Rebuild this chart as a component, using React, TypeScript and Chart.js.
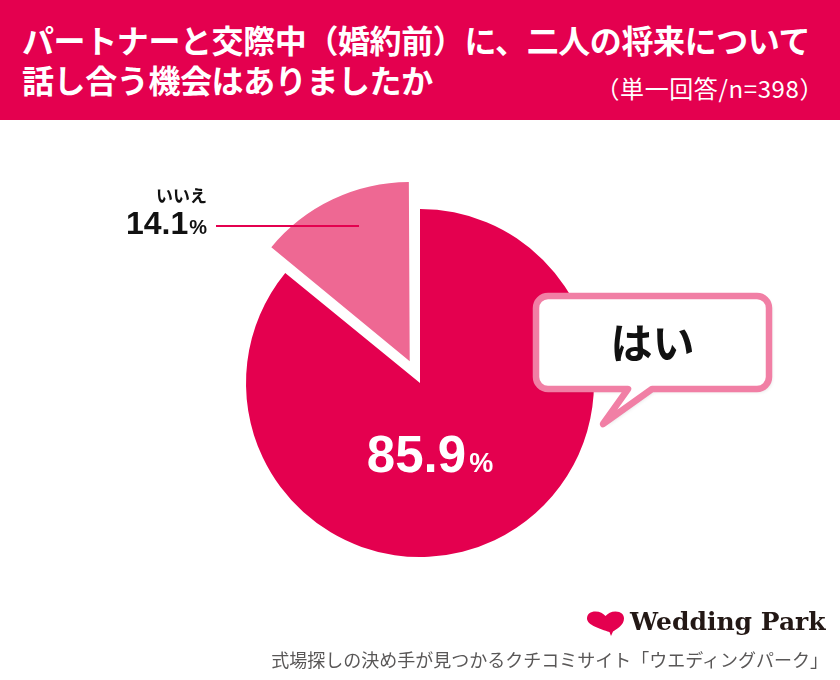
import React, { useEffect, useRef } from "react";
import { Chart, registerables } from "chart.js";

Chart.register(...registerables);

// ---- data ----
const categories = ["はい", "いいえ"];
const values = [85.9, 14.1];
const sliceColors = ["#E4004F", "#EE6893"];
// Chart.js translates an arc by offset / 4 pixels
const sliceOffsets = [0, 96];
const titleLines = [
  "パートナーと交際中（婚約前）に、二人の将来について",
  "話し合う機会はありましたか",
];
const noteText = "（単一回答/n=398）";
const footerText = "式場探しの決め手が見つかるクチコミサイト「ウエディングパーク」";
const brandText = "Wedding Park";

const JP = '"Noto Sans CJK JP", "Noto Sans", sans-serif';
const NUM = '"Liberation Sans", Arial, sans-serif';

const labelPlugin = {
  id: "labelPlugin",
  afterDraw(chart: any) {
    const ctx = chart.ctx as CanvasRenderingContext2D;
    const meta = chart.getDatasetMeta(0);
    const big = meta.data[0] as any;
    const cx = big.x;
    const cy = big.y;

    ctx.save();
    // ---- speech bubble for the big slice ----
    const L = cx + 116, R = cx + 349, T = cy - 87, B = cy + 6, rad = 12;
    const tailL = cx + 208, tailR = cx + 232, tipX = cx + 183, tipY = cy + 41;
    ctx.beginPath();
    ctx.moveTo(L + rad, T);
    ctx.lineTo(R - rad, T);
    ctx.arcTo(R, T, R, T + rad, rad);
    ctx.lineTo(R, B - rad);
    ctx.arcTo(R, B, R - rad, B, rad);
    ctx.lineTo(tailR, B);
    ctx.lineTo(tipX, tipY);
    ctx.lineTo(tailL, B);
    ctx.lineTo(L + rad, B);
    ctx.arcTo(L, B, L, B - rad, rad);
    ctx.lineTo(L, T + rad);
    ctx.arcTo(L, T, L + rad, T, rad);
    ctx.closePath();
    ctx.shadowColor = "rgba(0,0,0,0.18)";
    ctx.shadowBlur = 4;
    ctx.shadowOffsetX = 2;
    ctx.shadowOffsetY = 2;
    ctx.fillStyle = "#FFFFFF";
    ctx.fill();
    ctx.shadowColor = "transparent";
    ctx.lineJoin = "round";
    ctx.lineCap = "round";
    ctx.lineWidth = 6.5;
    ctx.strokeStyle = "#F17FA5";
    ctx.stroke();

    ctx.fillStyle = "#111111";
    ctx.font = `bold 42px ${JP}`;
    ctx.textAlign = "center";
    ctx.textBaseline = "middle";
    ctx.fillText(categories[0], (L + R) / 2, (T + B) / 2 + 1);

    // ---- big slice value ----
    const bigNum = values[0].toFixed(1);
    ctx.textBaseline = "alphabetic";
    ctx.textAlign = "left";
    ctx.font = `bold 51px ${NUM}`;
    const w1 = ctx.measureText(bigNum).width;
    ctx.font = `bold 27px ${NUM}`;
    const w2 = ctx.measureText("%").width;
    const startX = cx + 10 - (w1 + w2 + 3) / 2;
    const baseY = cy + 89;
    ctx.fillStyle = "#FFFFFF";
    ctx.font = `bold 51px ${NUM}`;
    ctx.fillText(bigNum, startX, baseY);
    ctx.font = `bold 27px ${NUM}`;
    ctx.fillText("%", startX + w1 + 3, baseY);

    // ---- small slice label + leader ----
    const lx = cx - 61, ly = cy - 157;
    ctx.strokeStyle = sliceColors[0];
    ctx.lineWidth = 2;
    ctx.lineCap = "butt";
    ctx.beginPath();
    ctx.moveTo(cx - 204, ly);
    ctx.lineTo(lx, ly);
    ctx.stroke();

    const rightX = cx - 213;
    ctx.fillStyle = "#111111";
    ctx.textAlign = "right";
    ctx.font = `bold 17px ${JP}`;
    ctx.fillText(categories[1], rightX, cy - 181);
    ctx.font = `bold 20px ${NUM}`;
    const pw = ctx.measureText("%").width;
    ctx.fillText("%", rightX, cy - 149);
    ctx.font = `bold 32px ${NUM}`;
    ctx.fillText(values[1].toFixed(1), rightX - pw - 1, cy - 149);
    ctx.restore();
  },
};

export default function App() {
  const canvasRef = useRef<HTMLCanvasElement | null>(null);

  useEffect(() => {
    const canvas = canvasRef.current;
    if (!canvas) return;
    const chart = new Chart(canvas, {
      type: "pie",
      data: {
        labels: categories,
        datasets: [
          {
            data: values,
            backgroundColor: sliceColors,
            borderWidth: 0,
            offset: sliceOffsets,
            hoverOffset: 0,
          },
        ],
      },
      options: {
        responsive: false,
        maintainAspectRatio: false,
        animation: false,
        events: [],
        radius: 174,
        layout: { padding: { top: 120, bottom: 34, left: 0, right: 0 } },
        plugins: {
          legend: { display: false },
          tooltip: { enabled: false },
        },
      } as any,
      plugins: [labelPlugin],
    });
    return () => chart.destroy();
  }, []);

  return (
    <div
      style={{
        position: "absolute",
        left: 0,
        top: 0,
        width: 840,
        height: 680,
        background: "#FFFFFF",
        overflow: "hidden",
      }}
    >
      <canvas
        ref={canvasRef}
        width={840}
        height={680}
        style={{ position: "absolute", left: 0, top: 0, width: 840, height: 680 }}
      />
      <div
        style={{
          position: "absolute",
          left: 0,
          top: 0,
          width: 840,
          height: 120,
          background: "#E4004F",
        }}
      >
        {titleLines.map((t, i) => (
          <div
            key={i}
            style={{
              position: "absolute",
              left: 22,
              top: 19 + i * 40,
              height: 40,
              lineHeight: "40px",
              fontFamily: JP,
              fontWeight: 700,
              fontSize: 32,
              color: "#FFFFFF",
              whiteSpace: "nowrap",
              letterSpacing: -0.4,
            }}
          >
            {t}
          </div>
        ))}
        <div
          style={{
            position: "absolute",
            right: 16,
            top: 72,
            lineHeight: "32px",
            fontFamily: JP,
            fontSize: 24,
            fontWeight: 400,
            color: "#FFFFFF",
            whiteSpace: "nowrap",
            letterSpacing: 0.6,
          }}
        >
          {noteText}
        </div>
      </div>
      <svg
        style={{ position: "absolute", left: 586, top: 611 }}
        width={40}
        height={26}
        viewBox="0 0 40 26"
      >
        <path
          d="M25 25 L23.5 21 C14 18 1 14 1 7.5 C1 3 4.5 0.5 9.5 0.5 C14 0.5 17 2.5 19.5 5 C22 2.5 25 0.5 29.5 0.5 C35 0.5 38 3.5 38 7.5 C38 14 31 18 27 20.5 Z"
          fill="#E4004F"
        />
      </svg>
      <div
        style={{
          position: "absolute",
          left: 630,
          top: 604,
          lineHeight: "36px",
          fontFamily: '"DejaVu Serif", serif',
          fontWeight: 700,
          fontSize: 25,
          color: "#231815",
          whiteSpace: "nowrap",
        }}
      >
        {brandText}
      </div>
      <div
        style={{
          position: "absolute",
          right: 12,
          top: 646,
          lineHeight: "26px",
          fontFamily: JP,
          fontSize: 18,
          color: "#595757",
          whiteSpace: "nowrap",
        }}
      >
        {footerText}
      </div>
    </div>
  );
}
